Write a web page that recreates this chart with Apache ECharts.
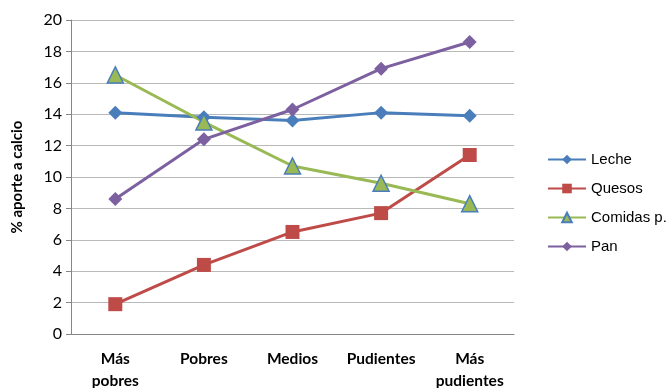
<!DOCTYPE html>
<html>
<head>
<meta charset="utf-8">
<script src="https://cdn.jsdelivr.net/npm/echarts@6/dist/echarts.min.js"></script>
<style>
  html, body { margin: 0; padding: 0; background: #fff; }
  #chart { width: 669px; height: 388px; }
</style>
</head>
<body>
<div id="chart"></div>
<script>
var categories = ['Más\npobres', 'Pobres', 'Medios', 'Pudientes', 'Más\npudientes'];
var leche = [14.1, 13.8, 13.6, 14.1, 13.9];
var quesos = [1.9, 4.4, 6.5, 7.7, 11.4];
var comidas = [16.5, 13.5, 10.7, 9.6, 8.3];
var pan = [8.6, 12.4, 14.3, 16.9, 18.6];

var myChart = echarts.init(document.getElementById('chart'));

var option = {
    animation: false,
    grid: {
        left: 71,
        right: 155,
        top: 20,
        bottom: 54,
        outerBoundsMode: 'none',
        containLabel: false
    },
    legend: {
        orient: 'vertical',
        left: 542,
        top: 147,
        itemWidth: 38,
        itemHeight: 12,
        itemGap: 14,
        textStyle: {
            fontFamily: 'Liberation Sans',
            fontSize: 15,
            color: '#000'
        },
        data: ['Leche', 'Quesos', 'Comidas p.', 'Pan']
    },
    xAxis: {
        type: 'category',
        data: categories,
        axisLine: { lineStyle: { color: '#868686' } },
        axisTick: { length: 5, lineStyle: { color: '#868686' } },
        axisLabel: {
            interval: 0,
            fontFamily: 'Lato',
            fontWeight: 'bold',
            fontSize: 15.5,
            color: '#000',
            margin: 14,
            lineHeight: 22
        }
    },
    yAxis: {
        type: 'value',
        min: 0,
        max: 20,
        interval: 2,
        name: '% aporte a calcio',
        nameLocation: 'middle',
        nameGap: 46,
        nameTextStyle: {
            fontFamily: 'Lato',
            fontWeight: 'bold',
            fontSize: 15,
            color: '#000'
        },
        axisLine: { show: true, lineStyle: { color: '#868686' } },
        axisTick: { show: true, length: 5, lineStyle: { color: '#868686' } },
        axisLabel: {
            fontFamily: 'Lato',
            fontSize: 16,
            color: '#000',
            margin: 9
        },
        splitLine: { lineStyle: { color: '#b9b9b9', width: 1 } }
    },
    series: [
        {
            name: 'Leche',
            type: 'line',
            data: leche,
            symbol: 'diamond',
            symbolSize: 14,
            lineStyle: { color: '#4a7ebb', width: 3 },
            itemStyle: { color: '#4a7ebb' }
        },
        {
            name: 'Quesos',
            type: 'line',
            data: quesos,
            symbol: 'rect',
            symbolSize: 14,
            lineStyle: { color: '#be4b48', width: 3 },
            itemStyle: { color: '#be4b48' }
        },
        {
            name: 'Comidas p.',
            type: 'line',
            data: comidas,
            symbol: 'triangle',
            symbolSize: 16,
            lineStyle: { color: '#98b954', width: 3 },
            itemStyle: { color: '#98b954', borderColor: '#4a7ebb', borderWidth: 1.5 }
        },
        {
            name: 'Pan',
            type: 'line',
            data: pan,
            symbol: 'diamond',
            symbolSize: 14,
            lineStyle: { color: '#7d60a0', width: 3 },
            itemStyle: { color: '#7d60a0' }
        }
    ]
};

myChart.setOption(option);
</script>
</body>
</html>
